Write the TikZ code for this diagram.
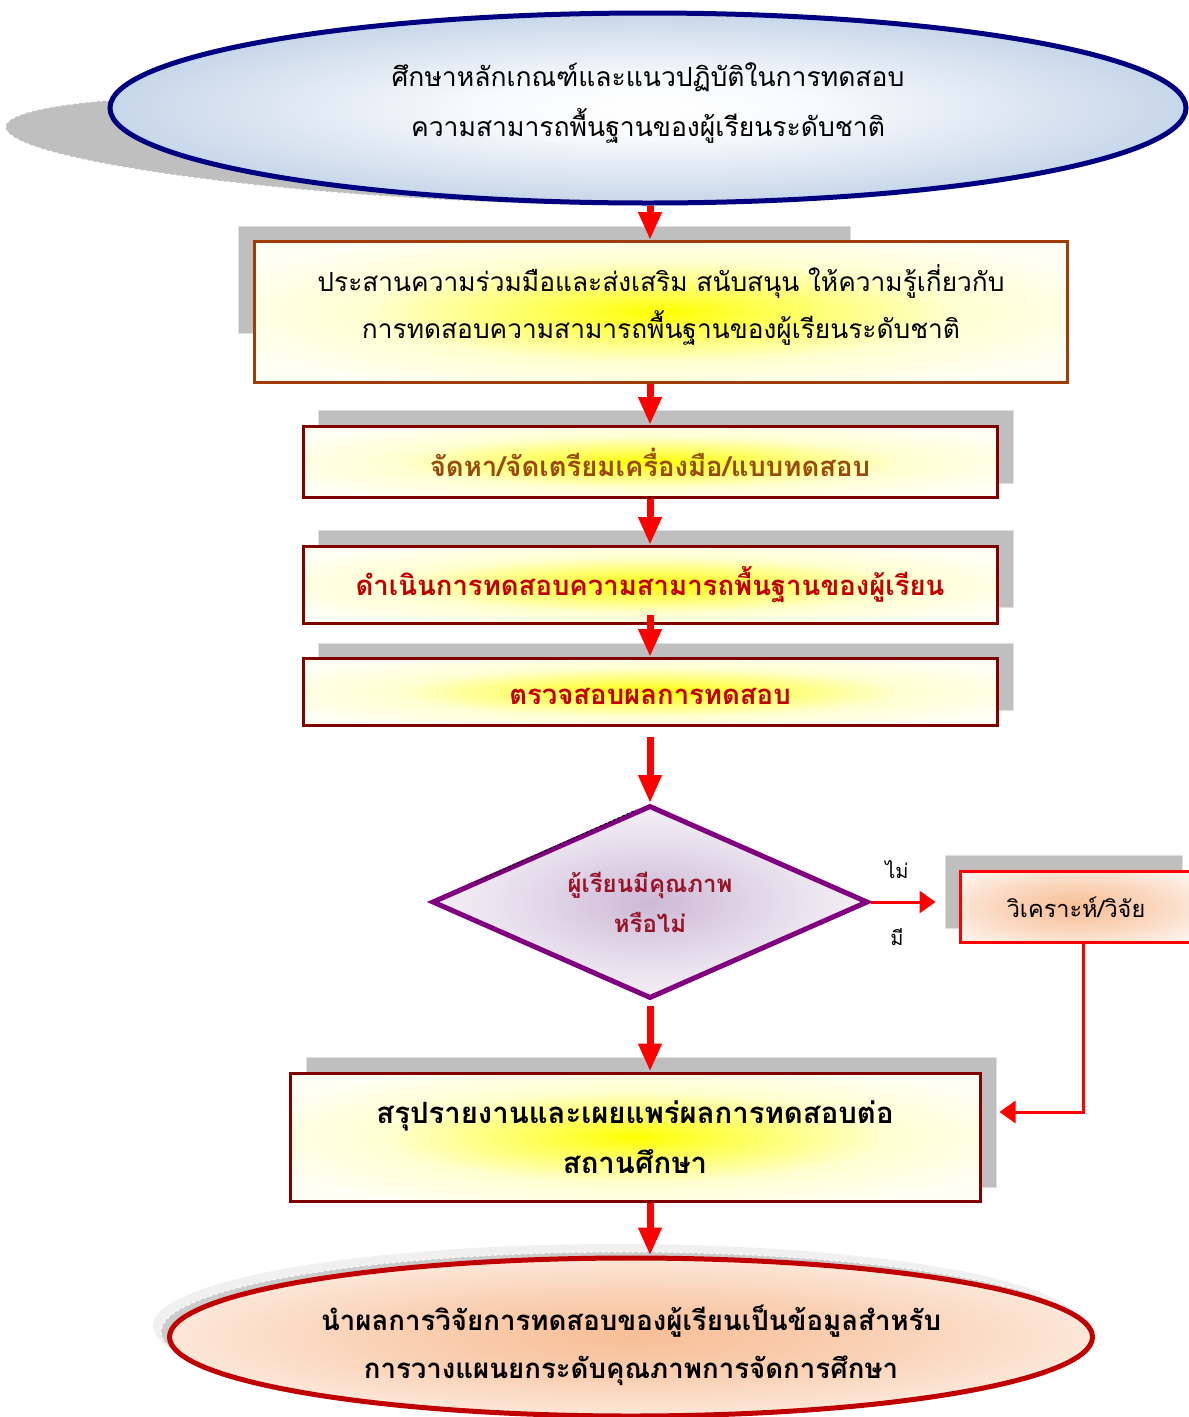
\documentclass[tikz,border=0pt]{standalone}
\usepackage{fontspec}
\setmainfont[Script=Thai]{Loma}
\usetikzlibrary{shapes.geometric,arrows.meta}

\definecolor{ellblue}{RGB}{184,204,228}
\definecolor{ellnavy}{RGB}{0,0,128}
\definecolor{boxbrown}{RGB}{160,60,10}
\definecolor{boxmaroon}{RGB}{128,0,0}
\definecolor{txtbrown}{RGB}{153,75,15}
\definecolor{txtred}{RGB}{192,0,0}
\definecolor{txtplum}{RGB}{150,20,40}
\definecolor{decpurple}{RGB}{128,0,128}
\definecolor{glowpurple}{RGB}{205,185,215}
\definecolor{glowpeach}{RGB}{248,190,150}
\definecolor{endred}{RGB}{192,0,0}

\pgfdeclareradialshading{glowblue}{\pgfpoint{0bp}{0bp}}{color(0bp)=(white); color(8bp)=(white!90!ellblue); color(30bp)=(ellblue); color(50bp)=(ellblue)}
\pgfdeclareradialshading{glowyellow}{\pgfpoint{0bp}{0bp}}{color(0bp)=(yellow); color(5bp)=(yellow!75!white); color(18bp)=(yellow!18!white); color(30bp)=(yellow!4!white); color(50bp)=(yellow!3!white)}
\pgfdeclareradialshading{glowplum}{\pgfpoint{0bp}{0bp}}{color(0bp)=(glowpurple); color(18bp)=(glowpurple!40!white); color(34bp)=(white); color(50bp)=(white)}
\pgfdeclareradialshading{glowside}{\pgfpoint{0bp}{0bp}}{color(0bp)=(glowpeach); color(18bp)=(glowpeach!60!white); color(36bp)=(glowpeach!8!white); color(50bp)=(glowpeach!8!white)}
\pgfdeclareradialshading{glowend}{\pgfpoint{0bp}{0bp}}{color(0bp)=(glowpeach); color(14bp)=(glowpeach!70!white); color(34bp)=(glowpeach!10!white); color(50bp)=(white)}

% move a text block up or down inside its node
\newcommand{\liftby}[2]{\raisebox{#1}[\height][\depth]{\begin{tabular}{@{}c@{}}#2\end{tabular}}}

\begin{document}
\begin{tikzpicture}[x=1pt,y=-1pt,
  flowarrow/.style={draw=red,line width=7pt,-{Triangle[length=28pt,width=22pt]}},
  sidearrow/.style={draw=red,line width=3pt,-{Triangle[length=16pt,width=22pt]}},
  shadowbox/.style={fill=gray!50,draw=gray!25,line width=1pt},
  stepbox/.style={rectangle,draw=boxmaroon,line width=3pt,shade,shading=glowyellow,inner sep=0pt,align=center},
  stepfont/.style={font=\bfseries\fontsize{27.5pt}{32pt}\selectfont}]

\useasboundingbox (0,0) rectangle (1189,1417);

% shadows
\draw[fill=gray!50,draw=white,dashed,line width=1pt,rotate around={-3:(450,150)}] (450,150) ellipse [x radius=445, y radius=50];
\draw[shadowbox] (238,226) rectangle (850,333);
\draw[shadowbox] (318,410) rectangle (1013,483);
\draw[shadowbox] (318,530) rectangle (1013,607);
\draw[shadowbox] (318,643) rectangle (1013,710);
\draw[shadowbox] (945,855) rectangle (1182,928);
\draw[shadowbox] (306,1057) rectangle (996,1187);
\fill[gray!12] (617,1326) ellipse [x radius=464, y radius=82];
\draw[fill=gray!40,draw=white,dashed,line width=1pt] (624,1332) ellipse [x radius=463, y radius=80];

% steps
\node[ellipse,draw=ellnavy,line width=5pt,shade,shading=glowblue,inner sep=0pt,
  minimum width=1076pt,minimum height=190pt,
  font=\fontsize{26.5pt}{50pt}\selectfont] (study) at (648,108)
  {\liftby{7pt}{ศึกษาหลักเกณฑ์และแนวปฏิบัติในการทดสอบ\\ความสามารถพื้นฐานของผู้เรียนระดับชาติ}};
\node[stepbox,draw=boxbrown,minimum width=813pt,minimum height=141pt,
  font=\fontsize{26.3pt}{47pt}\selectfont] (cooperate) at (661,312)
  {\liftby{6pt}{ประสานความร่วมมือและส่งเสริม สนับสนุน ให้ความรู้เกี่ยวกับ\\การทดสอบความสามารถพื้นฐานของผู้เรียนระดับชาติ}};
\node[stepbox,stepfont,text=txtbrown,minimum width=694pt,minimum height=71pt] (prepare) at (650,462)
  {จัดหา/จัดเตรียมเครื่องมือ/แบบทดสอบ};
\node[stepbox,stepfont,text=txtred,minimum width=694pt,minimum height=77pt] (conduct) at (650,585)
  {ดำเนินการทดสอบความสามารถพื้นฐานของผู้เรียน};
\node[stepbox,stepfont,text=txtred,minimum width=694pt,minimum height=67pt] (check) at (650,692)
  {\liftby{-6pt}{ตรวจสอบผลการทดสอบ}};
\node[diamond,aspect=2.3,draw=decpurple,line width=5pt,shade,shading=glowplum,inner sep=0pt,
  minimum width=436pt,minimum height=193pt,align=center,text=txtplum,
  font=\bfseries\fontsize{24pt}{40pt}\selectfont] (quality) at (650,902)
  {ผู้เรียนมีคุณภาพ\\หรือไม่};
\draw[densely dashed,line width=0.8pt] (476,882) -- (636,810);
\node[rectangle,draw=red,line width=3pt,shade,shading=glowside,inner sep=0pt,
  minimum width=232pt,minimum height=71pt,font=\fontsize{23.5pt}{26pt}\selectfont] (analyse) at (1076,907)
  {วิเคราะห์/วิจัย};
\node[stepbox,minimum width=690pt,minimum height=128pt,
  font=\bfseries\fontsize{29.3pt}{50pt}\selectfont] (report) at (635,1137)
  {สรุปรายงานและเผยแพร่ผลการทดสอบต่อ\\สถานศึกษา};
\node[ellipse,draw=endred,line width=5pt,shade,shading=glowend,inner sep=0pt,
  minimum width=923pt,minimum height=158pt,
  font=\bfseries\fontsize{27.6pt}{48pt}\selectfont] (use) at (631,1337)
  {\liftby{-8pt}{นำผลการวิจัยการทดสอบของผู้เรียนเป็นข้อมูลสำหรับ\\การวางแผนยกระดับคุณภาพการจัดการศึกษา}};

\node[font=\fontsize{20pt}{24pt}\selectfont] (no) at (897,870) {ไม่};
\node[font=\fontsize{20pt}{24pt}\selectfont] (yes) at (897,937) {มี};

% arrows
\draw[flowarrow] (study.south -| 650,0) -- (cooperate.north -| 650,0);
\draw[flowarrow] (cooperate.south -| 650,0) -- (prepare.north);
\draw[flowarrow] (prepare.south) -- (conduct.north);
\draw[flowarrow] (conduct.south) ++(0,-10) -- (check.north);
\draw[flowarrow,shorten <=10pt] (check.south) -- (quality.north);
\draw[flowarrow,shorten <=5pt] (quality.south) -- (quality.south |- report.north);
\draw[flowarrow] (report.south -| 650,0) -- (use.north -| 650,0);
\draw[sidearrow,shorten >=23pt] (quality.east) -- (quality.east -| analyse.west);
\draw[sidearrow] (analyse.south -| 1083,0) |- ([xshift=18pt,yshift=25pt]report.east);

\end{tikzpicture}
\end{document}
